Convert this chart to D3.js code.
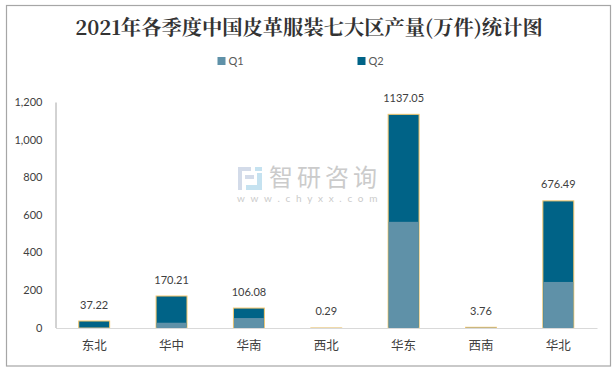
<!DOCTYPE html>
<html>
<head>
<meta charset="utf-8">
<script src="https://cdn.jsdelivr.net/npm/d3@7"></script>
<style>
  html, body { margin: 0; padding: 0; background: #fff; }
  svg { display: block; }
</style>
</head>
<body>
<div id="chart"></div>
<script>
const regions = ["东北", "华中", "华南", "西北", "华东", "西南", "华北"];
const q1 = [1.5, 28, 53, 0.1, 565, 1.5, 245];
const totals = [37.22, 170.21, 106.08, 0.29, 1137.05, 3.76, 676.49];
const totalLabels = ["37.22", "170.21", "106.08", "0.29", "1137.05", "3.76", "676.49"];
const yTicks = [0, 200, 400, 600, 800, 1000, 1200];
const seriesNames = ["Q1", "Q2"];

const width = 614, height = 370;
const margin = { top: 102.5, right: 17, bottom: 42, left: 55.5 };
const colors = { Q1: "#5f91a8", Q2: "#006387" };
const sans = "Lato, 'Noto Sans CJK SC', sans-serif";
const serif = "'Noto Serif CJK SC', 'Liberation Serif', 'Noto Sans CJK SC', serif";

const svg = d3.select("#chart").append("svg")
  .attr("width", width)
  .attr("height", height);

// frame
svg.append("rect")
  .attr("x", 6.5).attr("y", 5.5)
  .attr("width", 604).attr("height", 360.5)
  .attr("fill", "#fff")
  .attr("stroke", "#a6a6a6")
  .attr("stroke-width", 1.2);

// title
svg.append("text")
  .attr("x", 309).attr("y", 35)
  .attr("text-anchor", "middle")
  .attr("font-family", serif)
  .attr("font-weight", "bold")
  .attr("font-size", 20.3)
  .attr("fill", "#333333")
  .text("2021年各季度中国皮革服装七大区产量(万件)统计图");

// legend
const legend = svg.append("g").selectAll("g")
  .data(seriesNames)
  .join("g")
  .attr("transform", (d, i) => `translate(${217.5 + i * 140},57)`);

legend.append("rect")
  .attr("width", 8).attr("height", 8)
  .attr("fill", d => colors[d]);

legend.append("text")
  .attr("x", 11).attr("y", 8)
  .attr("font-family", sans)
  .attr("font-size", 11)
  .attr("fill", "#595959")
  .text(d => d);

// scales
const x = d3.scaleBand()
  .domain(regions)
  .range([margin.left, width - margin.right])
  .paddingInner(0.6)
  .paddingOuter(0.3);

const y = d3.scaleLinear()
  .domain([0, 1200])
  .range([height - margin.bottom, margin.top]);

// watermark
const mark = svg.append("g");
mark.append("text")
  .attr("x", 269).attr("y", 186)
  .attr("font-family", "'Noto Sans CJK SC', sans-serif")
  .attr("font-size", 24)
  .attr("letter-spacing", 4)
  .attr("fill", "#cbcbcb")
  .text("智研咨询");
mark.append("text")
  .attr("x", 237).attr("y", 202)
  .attr("font-family", sans)
  .attr("font-size", 10)
  .attr("letter-spacing", 5.7)
  .attr("fill", "#cbcbcb")
  .text("www.chyxx.com");
const logo = [
  { x: 238, y: 167, w: 13, h: 4, c: "#d3dbe9" },
  { x: 238, y: 171, w: 4, h: 19, c: "#d3dbe9" },
  { x: 245, y: 175, w: 9, h: 4, c: "#d3dbe9" },
  { x: 255, y: 167, w: 7, h: 4, c: "#c5e2f0" },
  { x: 257, y: 173, w: 5, h: 12, c: "#c5e2f0" },
  { x: 246, y: 185, w: 16, h: 5, c: "#c5e2f0" }
];
mark.selectAll("rect")
  .data(logo)
  .join("rect")
  .attr("x", d => d.x).attr("y", d => d.y)
  .attr("width", d => d.w).attr("height", d => d.h)
  .attr("fill", d => d.c);

// bars
const bars = svg.append("g").selectAll("g")
  .data(regions)
  .join("g");

bars.append("rect")
  .attr("x", d => x(d))
  .attr("y", (d, i) => y(totals[i]))
  .attr("width", x.bandwidth())
  .attr("height", (d, i) => y(0) - y(totals[i]))
  .attr("fill", colors.Q2)
  .attr("stroke", "#f5c76c")
  .attr("stroke-width", 1);

bars.append("rect")
  .attr("x", d => x(d) + 0.5)
  .attr("y", (d, i) => y(q1[i]))
  .attr("width", x.bandwidth() - 1)
  .attr("height", (d, i) => y(0) - y(q1[i]))
  .attr("fill", colors.Q1);

bars.append("text")
  .attr("x", d => x(d) + x.bandwidth() / 2)
  .attr("y", (d, i) => y(totals[i]) - 12.5)
  .attr("text-anchor", "middle")
  .attr("font-family", sans)
  .attr("font-size", 11)
  .attr("fill", "#404040")
  .text((d, i) => totalLabels[i]);

// axes
const yAxis = svg.append("g")
  .attr("transform", `translate(${margin.left},-0.5)`)
  .call(d3.axisLeft(y).tickValues(yTicks).tickSize(0).tickPadding(13).tickFormat(d3.format(",")));
yAxis.select(".domain").attr("stroke", "#a6a6a6");
yAxis.selectAll("text")
  .attr("font-family", sans)
  .attr("font-size", 11)
  .attr("fill", "#404040");

const xAxis = svg.append("g")
  .attr("transform", `translate(0,${y(0)})`)
  .call(d3.axisBottom(x).tickSize(0).tickPadding(13.5));
xAxis.select(".domain").attr("stroke", "#d9d9d9");
xAxis.selectAll("text")
  .attr("font-family", "'Noto Sans CJK SC', sans-serif")
  .attr("font-size", 12.5)
  .attr("fill", "#404040");
</script>
</body>
</html>
